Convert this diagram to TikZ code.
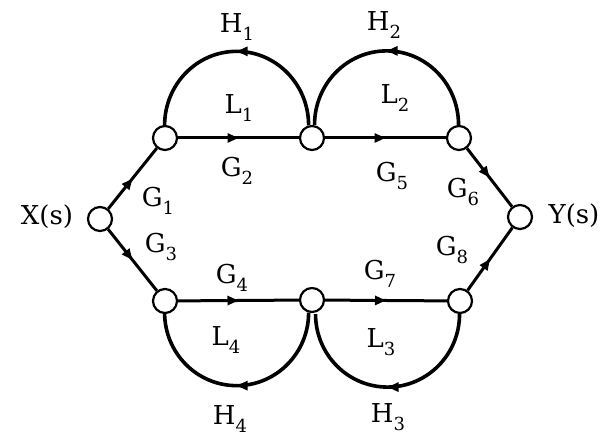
\documentclass[tikz,border=0pt]{standalone}
\usepackage{fontspec}
\setmainfont{DejaVu Serif}
\usetikzlibrary{arrows.meta,decorations.markings}
\newcommand\sbx[1]{\raisebox{-0.3em}{\fontsize{18}{18}\selectfont #1}}
\begin{document}
\begin{tikzpicture}[x=1pt,y=1pt,
  sgnode/.style={circle,draw,fill=white,line width=2.2pt,minimum size=24pt,inner sep=0pt},
  branch/.style={line width=3pt,postaction={decorate},
    decoration={markings,mark=at position 0.5 with {\arrow{Triangle[length=11pt,width=9pt]}}}},
  loopbr/.style={branch,line width=3.6pt},
  lbl/.style={font=\fontsize{26}{30}\selectfont,inner sep=0pt}]
\useasboundingbox (0,0) rectangle (605,443);
% nodes
\node[sgnode] (X)  at (100,224) {};
\node[sgnode] (TL) at (165,305) {};
\node[sgnode] (TM) at (312,305) {};
\node[sgnode] (TR) at (459,305) {};
\node[sgnode] (Y)  at (520,226) {};
\node[sgnode] (BL) at (165,142) {};
\node[sgnode] (BM) at (312,143) {};
\node[sgnode] (BR) at (460,142) {};
% forward branches
\draw[branch] (X) -- (TL);
\draw[branch] (TL) -- (TM);
\draw[branch] (TM) -- (TR);
\draw[branch] (TR) -- (Y);
\draw[branch] (X) -- (BL);
\draw[branch] (BL) -- (BM);
\draw[branch] (BM) -- (BR);
\draw[branch] (BR) -- (Y);
% feedback loops (from node to node)
\draw[loopbr] (TM.105) arc[start angle=0,end angle=180,x radius=72,y radius=74];
\draw[loopbr] (TR.92) arc[start angle=0,end angle=180,x radius=72,y radius=74];
\draw[loopbr] (BM.255) arc[start angle=0,end angle=-180,x radius=72,y radius=73];
\draw[loopbr] (BR.268) arc[start angle=0,end angle=-180,x radius=72,y radius=73];
% labels
\node[lbl] (lx)  at (47,226)  {X(s)};
\node[lbl] (ly)  at (574,227) {Y(s)};
\node[lbl] (h1)  at (237,416) {H\sbx{1}};
\node[lbl] (h2)  at (384,418) {H\sbx{2}};
\node[lbl] (l1)  at (239,335) {L\sbx{1}};
\node[lbl] (l2)  at (395,345) {L\sbx{2}};
\node[lbl] (g1)  at (158,242) {G\sbx{1}};
\node[lbl] (g2)  at (237,272) {G\sbx{2}};
\node[lbl] (g5)  at (392,267) {G\sbx{5}};
\node[lbl] (g6)  at (463,251) {G\sbx{6}};
\node[lbl] (g3)  at (161,196) {G\sbx{3}};
\node[lbl] (g4)  at (232,165) {G\sbx{4}};
\node[lbl] (g7)  at (380,169) {G\sbx{7}};
\node[lbl] (g8)  at (452,193) {G\sbx{8}};
\node[lbl] (l4)  at (226,103) {L\sbx{4}};
\node[lbl] (l3)  at (381,101) {L\sbx{3}};
\node[lbl] (h4)  at (230,24)  {H\sbx{4}};
\node[lbl] (h3)  at (388,26)  {H\sbx{3}};
\end{tikzpicture}
\end{document}
